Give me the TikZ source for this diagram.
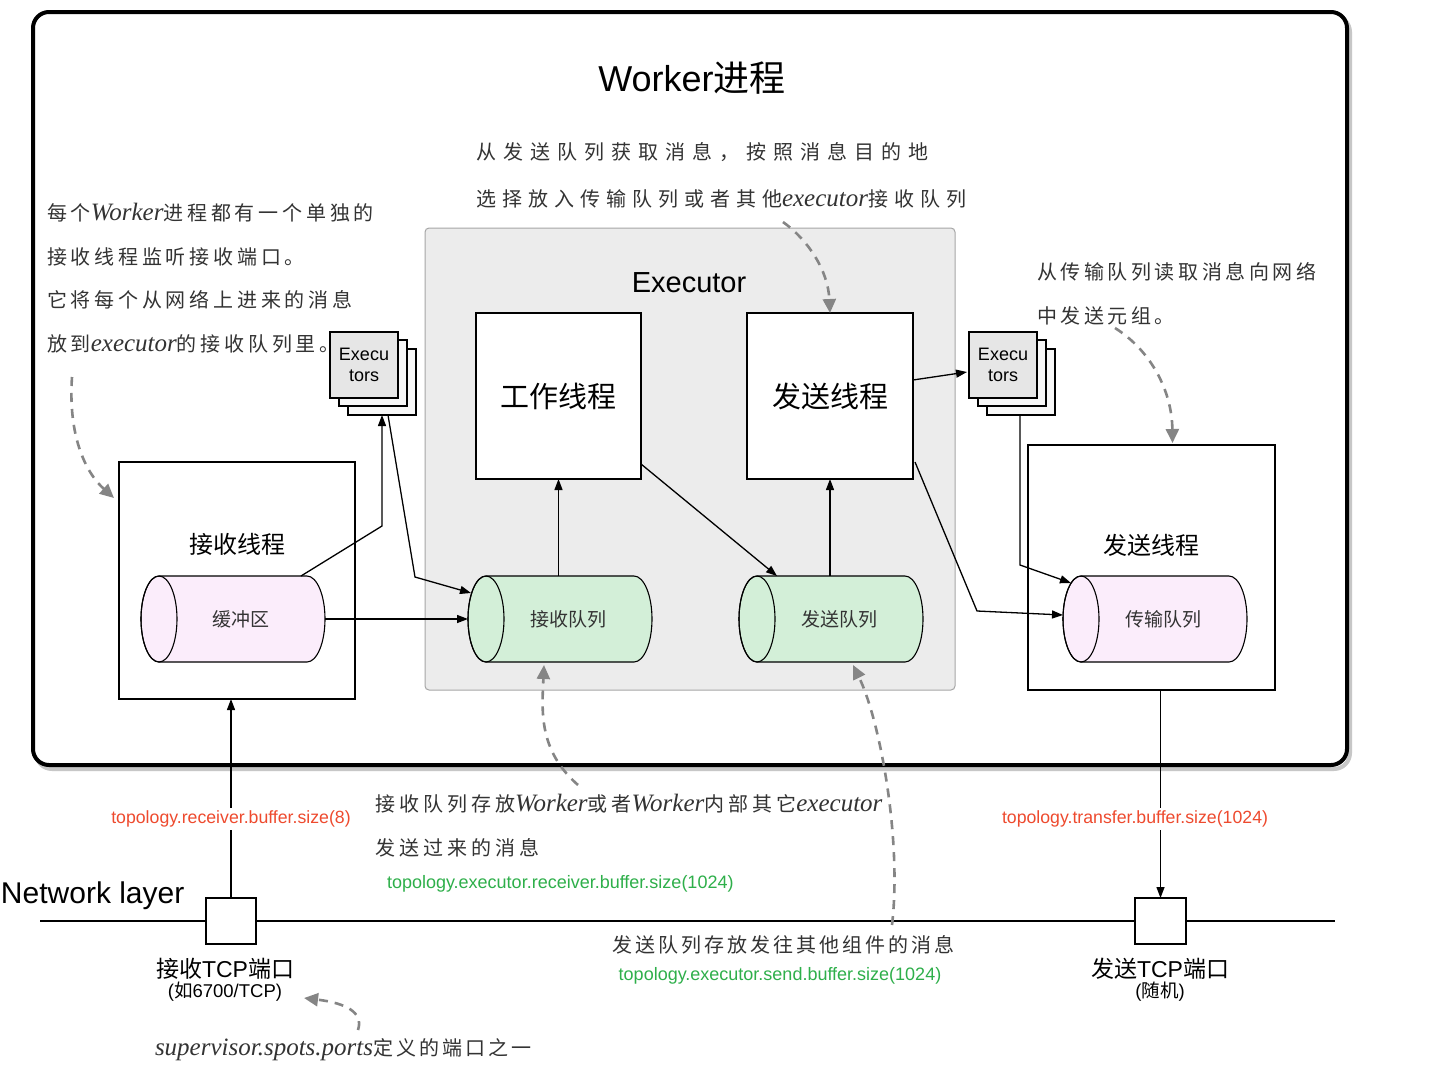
\documentclass[tikz,border=0pt]{standalone}
\usepackage{fontspec}
\setmainfont{Liberation Sans}
\newfontfamily\cjk{Noto Sans CJK SC}
\newfontfamily\hwf{Noto Sans CJK SC}[LetterSpace=15]
\newfontfamily\hlat{Liberation Serif}
\usetikzlibrary{arrows.meta,calc}
\definecolor{hw}{HTML}{333333}
\definecolor{execgray}{HTML}{ECECEC}
\definecolor{exfill}{HTML}{E6E6E6}
\definecolor{qpink}{HTML}{FBEDFB}
\definecolor{qgreen}{HTML}{D3EFD8}
\definecolor{tred}{HTML}{EE4A2E}
\definecolor{tgreen}{HTML}{2EAF4A}
\definecolor{dgray}{HTML}{858585}
\newcommand\hand{\hwf\fontsize{20}{20}\selectfont\color{hw}}
\newcommand\hl[1]{{\hlat\itshape\fontsize{25}{25}\selectfont #1}}
\newcommand\qcyl[5]{%
  \node[minimum width=184, minimum height=86] (#1) at (#2,#3) {};
  \filldraw[fill=#4, line width=1.1pt] ($(#1.north west)+(18,0)$) -- ($(#1.north east)+(-18,0)$)
     arc[start angle=-90,end angle=90,x radius=18,y radius=43]
     -- ($(#1.south west)+(18,0)$)
     arc[start angle=90,end angle=270,x radius=18,y radius=43] -- cycle;
  \draw[line width=1.1pt] ($(#1.west)+(18,0)$) ellipse[x radius=18,y radius=43];
  \node[font=\cjk\fontsize{19}{19}\selectfont, text=black!80] (#1t) at ($(#1.center)+(8,0)$) {#5};
}
\begin{document}
\begin{tikzpicture}[x=1pt,y=-1pt,
  every node/.style={inner sep=0pt, outer sep=0pt},
  box/.style={draw=black, line width=1.3pt, fill=white},
  arr/.style={line width=1.3pt, -{Triangle[length=11pt,width=8pt]}},
  garrow/.style={draw=dgray, line width=2.6pt, dash pattern=on 9pt off 7pt, -{Triangle[length=14pt,width=13pt]}, fill=none},
  exb/.style={draw=black, line width=1.3pt, fill=gray!6, minimum width=68, minimum height=66},
  exf/.style={draw=black, line width=1.3pt, fill=exfill, minimum width=68, minimum height=66, align=center, font=\fontsize{18}{21}\selectfont},
  annot/.style={anchor=west, font=\hand},
]
\fill[white] (0,0) rectangle (1454,1066);
\useasboundingbox (0,0) rectangle (1454,1066);

% outer worker frame
\draw[line width=4pt, rounded corners=16pt, black!22] (36,16) rectangle (1350,769);
\node[draw=black, line width=4pt, rounded corners=16pt, fill=white, minimum width=1314, minimum height=753, anchor=north west] (worker) at (33,12) {};
\node[font=\fontsize{36}{36}\selectfont] (title) at (692,78) {Worker{\cjk 进程}};

% executor
\node[draw=black!35, line width=1pt, fill=execgray, rounded corners=4pt, minimum width=530, minimum height=462, anchor=north west] (exec) at (425,228) {};
\node[font=\fontsize{29}{29}\selectfont] (exectitle) at (689,283) {Executor};

\node[box, minimum width=165, minimum height=166, anchor=north west, font=\cjk\fontsize{29}{29}\selectfont] (work) at (476,313) {工作线程};
\node[box, minimum width=166, minimum height=166, anchor=north west, font=\cjk\fontsize{29}{29}\selectfont] (send) at (747,313) {发送线程};

% receive thread box
\node[box, minimum width=236, minimum height=237, anchor=north west] (recvbox) at (119,462) {};
\node[font=\cjk\fontsize{24}{24}\selectfont] (recvl) at (237,544) {接收线程};
% transfer thread box
\node[box, minimum width=247, minimum height=245, anchor=north west] (sendbox) at (1028,445) {};
\node[font=\cjk\fontsize{24}{24}\selectfont] (sendl) at (1151,545) {发送线程};

% queues
\qcyl{buf}{233}{619}{qpink}{缓冲区}
\qcyl{rq}{560}{619}{qgreen}{接收队列}
\qcyl{sq}{831}{619}{qgreen}{发送队列}
\qcyl{tq}{1155}{619}{qpink}{传输队列}

% executors stacks
\node[exb] (exl3) at (382,382) {};
\node[exb] (exl2) at (373,373) {};
\node[exf] (exl) at (364,365) {Execu\\tors};
\node[exb] (exr3) at (1021,382) {};
\node[exb] (exr2) at (1012,373) {};
\node[exf] (exr) at (1003,365) {Execu\\tors};

% connectors
\draw[arr] ($(buf.north east)+(-24,0)$) -- (382,526) -- (exl3.south);
\draw[arr] ($(exl3.south)+(6,0)$) -- (415,577) -- ($(rq.west)+(3,-26)$);
\draw[arr] (buf.east) -- (rq.west);
\draw[arr] (work.south |- rq.north) -- (work.south);
\draw[arr] ($(work.south east)+(0,-15)$) -- ($(sq.north west)+(38,0)$);
\draw[arr] (send.south |- sq.north) -- (send.south);
\draw[arr] ($(send.east)+(0,-16)$) -- ($(exr.west)+(-2,7)$);
\draw[arr] ($(send.south east)+(2,-17)$) -- (977,611) -- ($(tq.west)+(0,-4)$);
\draw[arr] ($(exr3.south)+(-1,0)$) -- (1020,565) -- ($(tq.west)+(8,-36)$);

% network layer
\node[box, minimum width=50, minimum height=46] (rport) at (231,921) {};
\node[box, minimum width=51, minimum height=46] (sport) at (1160.5,921) {};
\coordinate (netL) at (40,921);
\coordinate (netR) at (1335,921);
\draw[line width=1.5pt] (netL) -- (rport.west) (rport.east) -- (sport.west) (sport.east) -- (netR);
\node[anchor=west, font=\fontsize{30}{30}\selectfont] (netl) at (1,896) {Network layer};

\draw[arr] (rport.north) -- (rport.north |- recvbox.south);
\draw[arr] (sport.north |- sendbox.south) -- (sport.north);
\node[fill=white, inner sep=3pt, text=tred, font=\fontsize{17.7}{17.7}\selectfont] (rlab) at (231,819) {topology.receiver.buffer.size(8)};
\node[fill=white, inner sep=3pt, text=tred, font=\fontsize{17.7}{17.7}\selectfont] (slab) at (1135,819) {topology.transfer.buffer.size(1024)};

\node[font=\fontsize{23}{23}\selectfont] (rportl) at (225,969) {{\cjk 接收}TCP{\cjk 端口}};
\node[font=\fontsize{18.5}{18.5}\selectfont] (rportl2) at (225,992) {({\cjk 如}6700/TCP)};
\node[font=\fontsize{23}{23}\selectfont] (sportl) at (1160,969) {{\cjk 发送}TCP{\cjk 端口}};
\node[font=\fontsize{18.5}{18.5}\selectfont] (sportl2) at (1160,992) {({\cjk 随机})};

\node[anchor=west, text=tgreen, font=\fontsize{18}{18}\selectfont] (g1) at (387,884) {topology.executor.receiver.buffer.size(1024)};
\node[text=tgreen, font=\fontsize{18}{18}\selectfont] (g2) at (780,976) {topology.executor.send.buffer.size(1024)};

% annotations
\node[annot] (a1) at (47,213) {\addfontfeatures{LetterSpace=19}每个\hl{Worker}\addfontfeatures{LetterSpace=19}进程都有一个单独的};
\node[annot] (a2) at (47,257) {\addfontfeatures{LetterSpace=19}接收线程监听接收端口。};
\node[annot] (a3) at (47,300) {\addfontfeatures{LetterSpace=19}它将每个从网络上进来的消息};
\node[annot] (a4) at (47,344) {\addfontfeatures{LetterSpace=19}放到\hl{executor}\addfontfeatures{LetterSpace=19}的接收队列里。};
\node[annot] (t1) at (476,152) {\addfontfeatures{LetterSpace=35}从发送队列获取消息，按照消息目的地};
\node[annot] (t2) at (476,199) {\addfontfeatures{LetterSpace=30}选择放入传输队列或者其他\hl{executor}\addfontfeatures{LetterSpace=30}接收队列};
\node[annot] (r1) at (1037,272) {\addfontfeatures{LetterSpace=18}从传输队列读取消息向网络};
\node[annot] (r2) at (1037,316) {\addfontfeatures{LetterSpace=18}中发送元组。};
\node[annot] (b1) at (375,804) {\addfontfeatures{LetterSpace=20}接收队列存放\hl{Worker}\addfontfeatures{LetterSpace=20}或者\hl{Worker}\addfontfeatures{LetterSpace=20}内部其它\hl{executor}};
\node[annot] (b2) at (375,848) {\addfontfeatures{LetterSpace=20}发送过来的消息};
\node[font=\hand] (c1) at (783,945) {发送队列存放发往其他组件的消息};
\node[annot] (s1) at (155,1050) {\hl{supervisor.spots.ports}定义的端口之一};

% dashed annotation arrows
\coordinate (d1s) at (72,377);
\coordinate (d2s) at (783,222);
\coordinate (d3s) at (1115,328);
\coordinate (d4s) at (578,785);
\coordinate (d5s) at (892,925);
\coordinate (d6s) at (358,1030);
\draw[garrow] (d1s) .. controls (68,435) and (85,472) .. ($(recvbox.north west)+(-5,36)$);
\draw[garrow] (d2s) .. controls (808,240) and (828,270) .. (send.north);
\draw[garrow] (d3s) .. controls (1150,350) and (1172,390) .. ($(sendbox.north)+(21,-2)$);
\draw[garrow] (d4s) .. controls (538,750) and (542,710) .. ($(rq.south)+(-16,3)$);
\draw[garrow] (d5s) .. controls (902,840) and (880,720) .. ($(sq.south)+(22,3)$);
\draw[garrow] (d6s) .. controls (364,1012) and (345,1003) .. ($(rportl2.east)+(22,6)$);
\end{tikzpicture}
\end{document}
